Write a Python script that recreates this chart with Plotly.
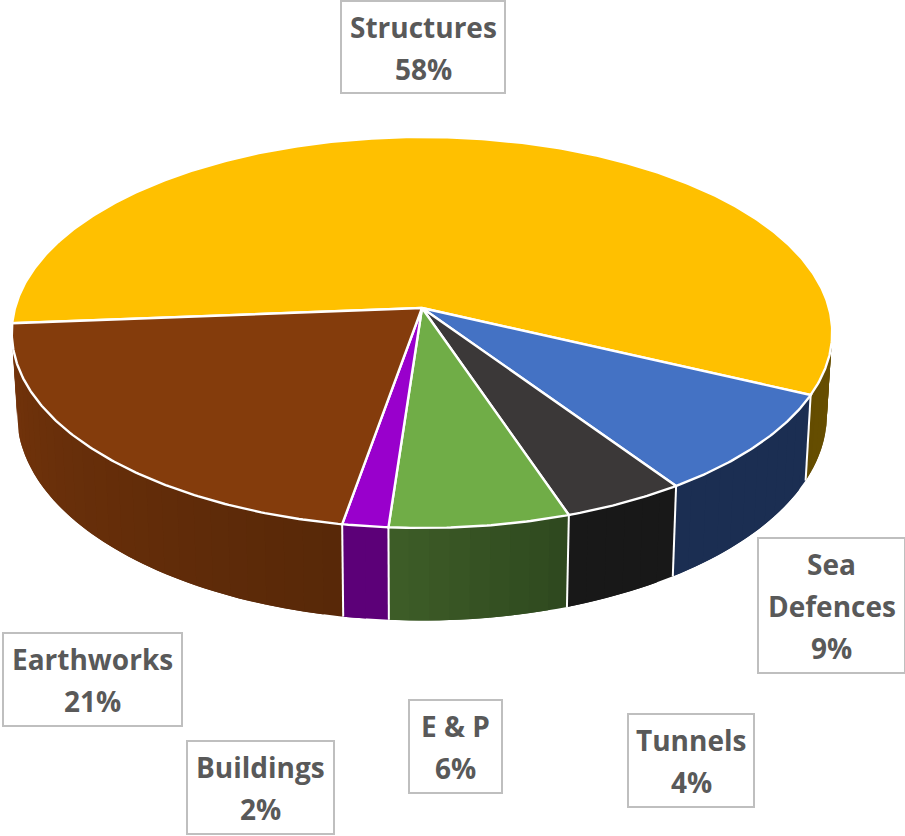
import numpy as np
import plotly.graph_objects as go

# --- data ---
categories = ["Structures", "Sea Defences", "Tunnels", "E & P", "Buildings", "Earthworks"]
values = [58.29, 8.51, 4.3, 6.3, 1.6, 21.0]

# --- styles ---
top_colors = ["#FFC000", "#4472C4", "#3B3838", "#70AD47", "#9900CC", "#843C0C"]
side_start = [(107, 81, 0), (27, 46, 82), (24, 24, 24), (46, 72, 30), (92, 0, 120), (88, 40, 8)]
side_end = [(100, 76, 0), (27, 46, 82), (24, 24, 24), (62, 93, 40), (92, 0, 120), (116, 52, 11)]
label_lines = [["Structures"], ["Sea", "Defences"], ["Tunnels"], ["E & P"], ["Buildings"], ["Earthworks"]]
boxes = [(341, 505, 1, 93), (758, 905, 538, 673), (628, 754, 714, 807),
         (409, 502, 700, 793), (187, 334, 741, 834), (3, 182, 633, 726)]

# --- projection of the disc ---
CX, CY = 422.0, 308.0
A, B, K = 407.0, 192.4, 0.1253
DEPTH, SHRINK = 81.0, 0.987
START = 175.5
VIS_MIN = 355.0


def top(theta_deg):
    t = np.radians(theta_deg)
    X, Y = np.cos(t), np.sin(t)
    w = 1 - K * Y
    return CX + A * X / w, CY + B * Y / w


def bottom(theta_deg):
    t = np.radians(theta_deg)
    w = 1 - K * np.sin(t)
    x, y = top(theta_deg)
    return CX + (x - CX) * SHRINK, y + DEPTH / w


def rgb(c):
    return "rgb(%d,%d,%d)" % tuple(int(round(v)) for v in c)


edges = START + np.cumsum([0] + list(values)) * 3.6

fig = go.Figure()

# side walls (painted first, shaded along the angle; each band overlaps the next to avoid seams)
for i in range(len(values)):
    lo, hi = edges[i], edges[i + 1]
    if i == 0:
        lo = VIS_MIN  # only the part of Structures near the right side shows
    n = max(2, int((hi - lo) / 2.5))
    steps = np.linspace(lo, hi, n + 1)
    for j in range(n):
        end = steps[min(j + 2, n)]
        s = np.linspace(steps[j], end, 5)
        tx, ty = top(s)
        bx, by = bottom(s)
        f = (j + 0.5) / n
        col = rgb(np.array(side_start[i]) * (1 - f) + np.array(side_end[i]) * f)
        fig.add_trace(go.Scatter(
            x=np.r_[tx, bx[::-1], tx[0]], y=np.r_[ty, by[::-1], ty[0]],
            mode="lines", fill="toself", fillcolor=col,
            line=dict(color=col, width=0), hoverinfo="skip", showlegend=False))

# white edges between wall sections
for i in range(1, len(values)):
    a = edges[i]
    tx, ty = top(a)
    bx, by = bottom(a)
    fig.add_trace(go.Scatter(x=[tx, bx], y=[ty, by], mode="lines",
                             line=dict(color="white", width=2),
                             hoverinfo="skip", showlegend=False))

# top faces
for i, c in enumerate(categories):
    s = np.arange(edges[i], edges[i + 1], 0.5)
    s = np.r_[s, edges[i + 1]]
    x, y = top(s)
    fig.add_trace(go.Scatter(
        x=np.r_[CX, x, CX], y=np.r_[CY, y, CY], mode="lines", fill="toself",
        fillcolor=top_colors[i], line=dict(color="white", width=2.4),
        name=c, hoverinfo="name", showlegend=False))

# data labels
shapes, annotations = [], []
for i, c in enumerate(categories):
    x0, x1, y0, y1 = boxes[i]
    shapes.append(dict(type="rect", x0=x0, x1=x1, y0=y0, y1=y1, xref="x", yref="y",
                       line=dict(color="#BFBFBF", width=2), fillcolor="rgba(0,0,0,0)"))
    lines = label_lines[i] + ["%d%%" % round(values[i])]
    mid = (y0 + y1) / 2
    for k, t in enumerate(lines):
        annotations.append(dict(
            x=(x0 + x1) / 2, y=mid + 0.5 + (k - (len(lines) - 1) / 2) * 42, text=t,
            xref="x", yref="y", showarrow=False, xanchor="center", yanchor="middle",
            font=dict(family="Open Sans", size=28, color="#595959", weight=700)))

fig.update_layout(
    width=905, height=836, margin=dict(l=0, r=0, t=0, b=0),
    paper_bgcolor="white", plot_bgcolor="white", showlegend=False,
    xaxis=dict(range=[0, 905], visible=False, fixedrange=True),
    yaxis=dict(range=[836, 0], visible=False, fixedrange=True),
    shapes=shapes, annotations=annotations)

fig.write_html("out.html", config=dict(displayModeBar=False),
               post_script="document.body.style.margin='0';document.body.style.overflow='hidden';")
